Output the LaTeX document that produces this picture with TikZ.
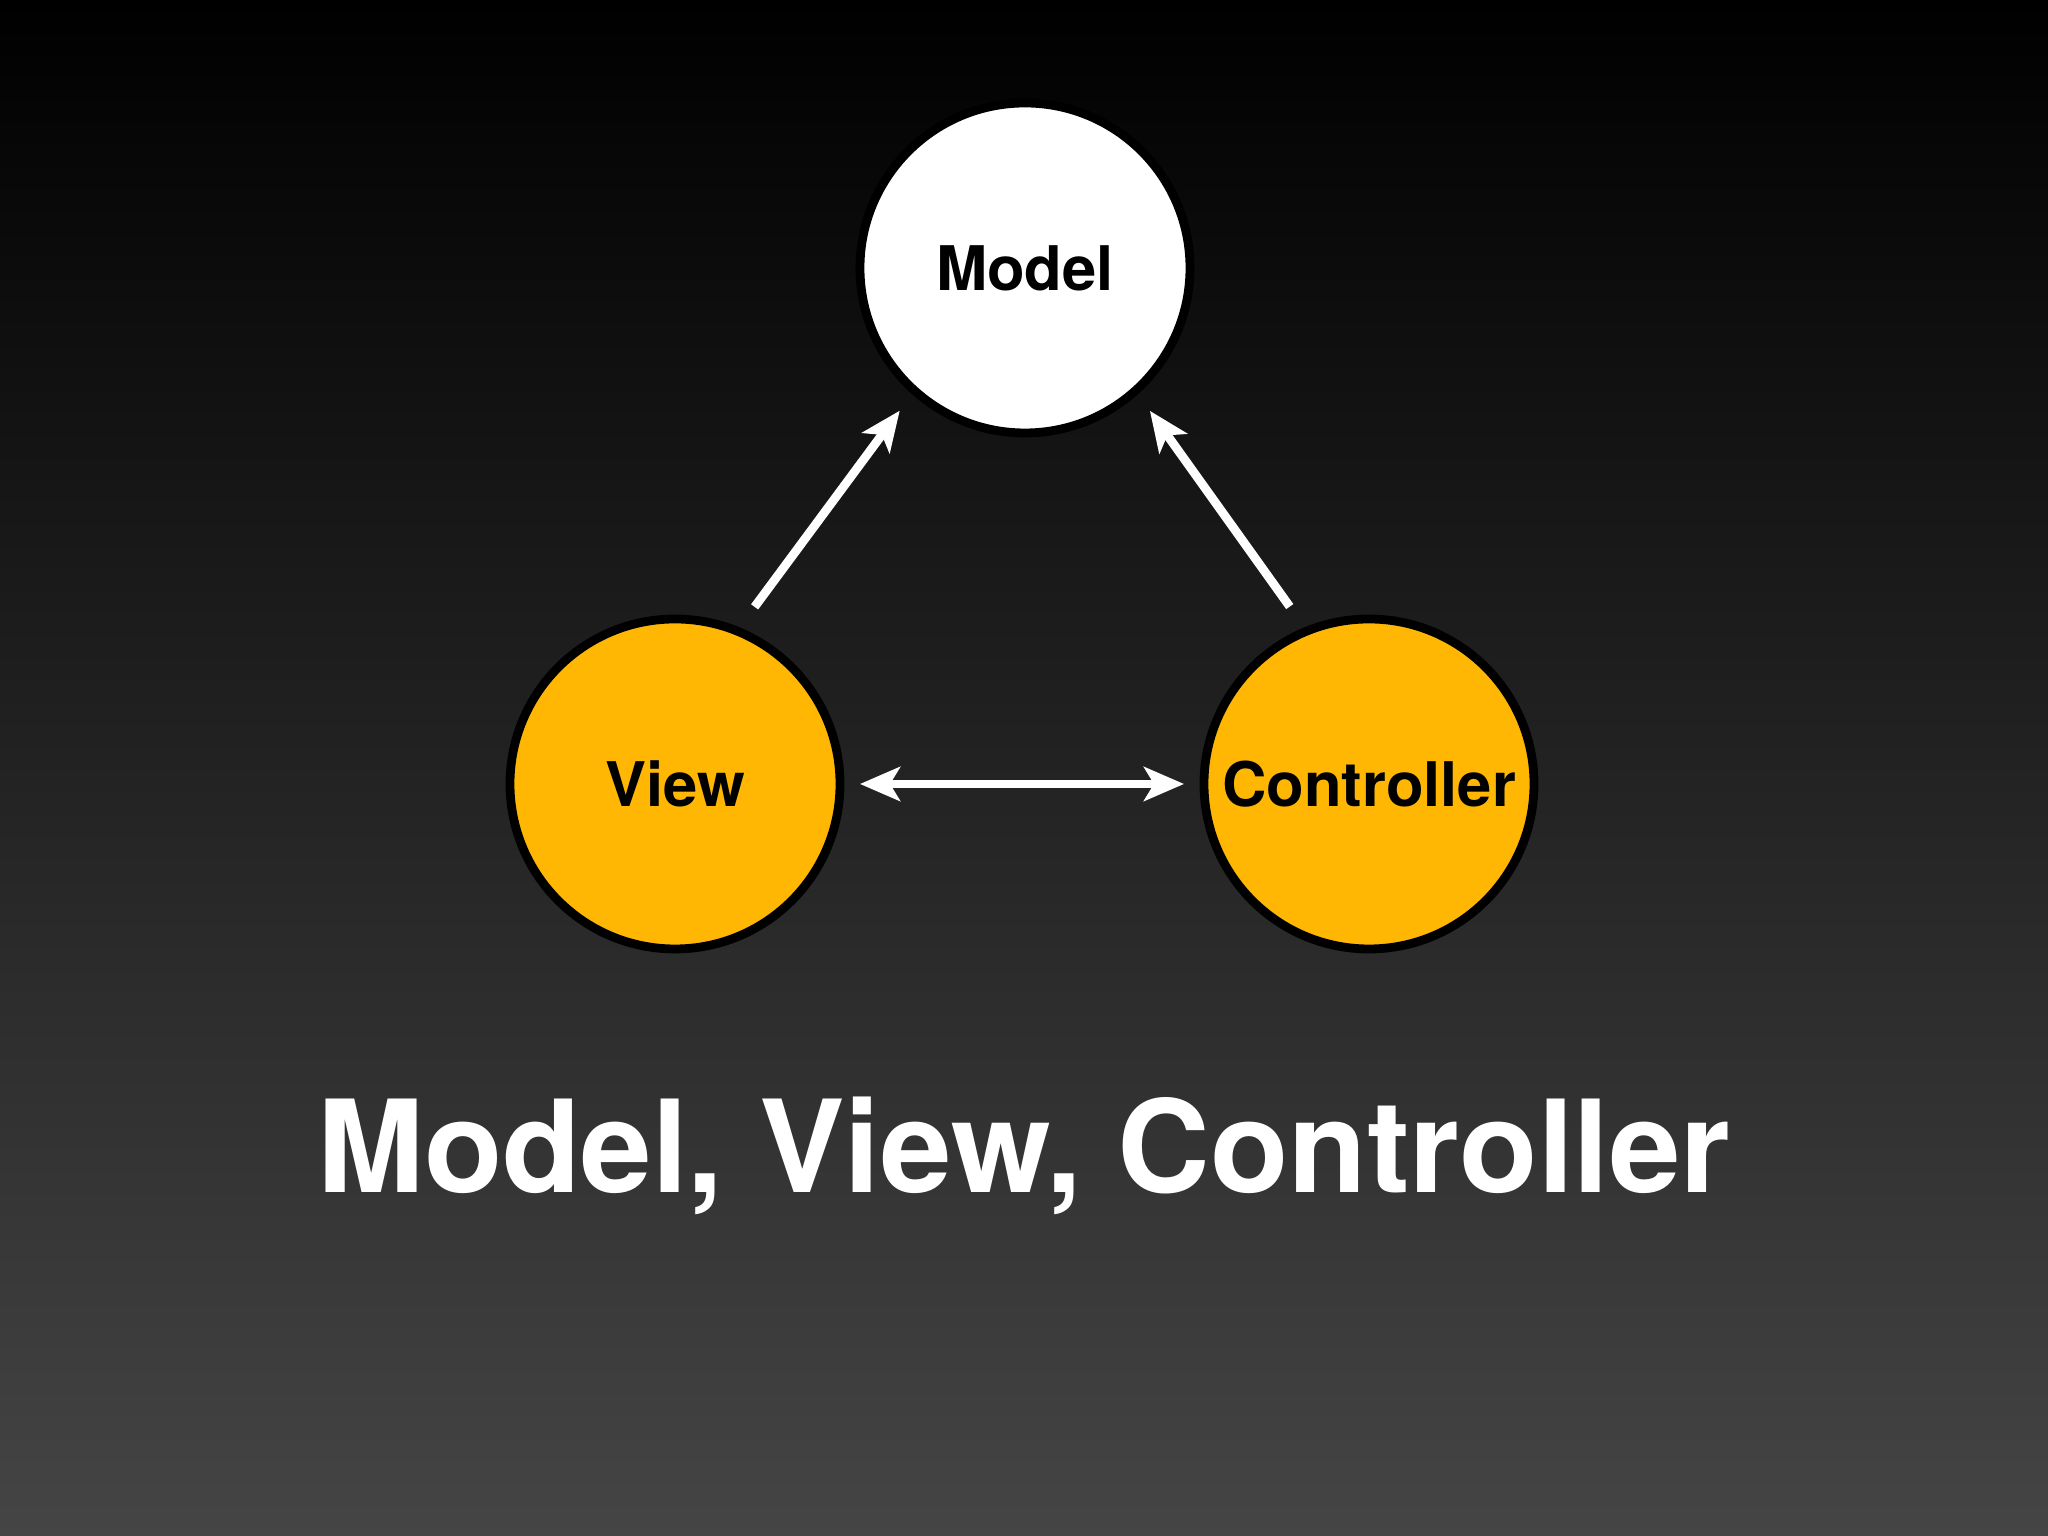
\documentclass[tikz,border=0pt]{standalone}
\usepackage{fontspec}
\setmainfont{TeX Gyre Heros}
\usetikzlibrary{arrows.meta,positioning}
\definecolor{mvcorange}{HTML}{FFB703}
\begin{document}
\begin{tikzpicture}[every node/.style={outer sep=0pt}]
\tikzstyle{part}=[circle,draw=black,line width=2.5pt,minimum size=3.3cm,inner sep=0pt,
font=\fontsize{17.5}{21}\selectfont\bfseries,text=black]
\tikzstyle{link}=[draw=white,line width=2.5pt,shorten <=0.3cm,shorten >=0.25cm,
-{Stealth[length=0.4cm,width=0.34cm,inset=0.1cm]}]
% background
\shade[top color=black,bottom color=black!73!white] (0,0) rectangle (20.48,15.36);
\useasboundingbox (0,0) rectangle (20.48,15.36);
\node (model) [part,fill=white] at (10.25,12.68) {Model};
\node (view) [part,fill=mvcorange] at (6.75,7.52) {View};
\node (ctrl) [part,fill=mvcorange] at (13.69,7.52) {Controller};
\draw [link] (view.68) -- (model.228);
\draw [link] (ctrl.112) -- (model.312);
\draw [link,shorten <=0.2cm,shorten >=0.2cm,
{Stealth[length=0.4cm,width=0.34cm,inset=0.1cm]}-{Stealth[length=0.4cm,width=0.34cm,inset=0.1cm]}]
(view) -- (ctrl);
%
\node (title) at (10.24,3.80) [text=white,font=\fontsize{36.5}{42}\selectfont\bfseries]
{Model, View, Controller};
\end{tikzpicture}
\end{document}
